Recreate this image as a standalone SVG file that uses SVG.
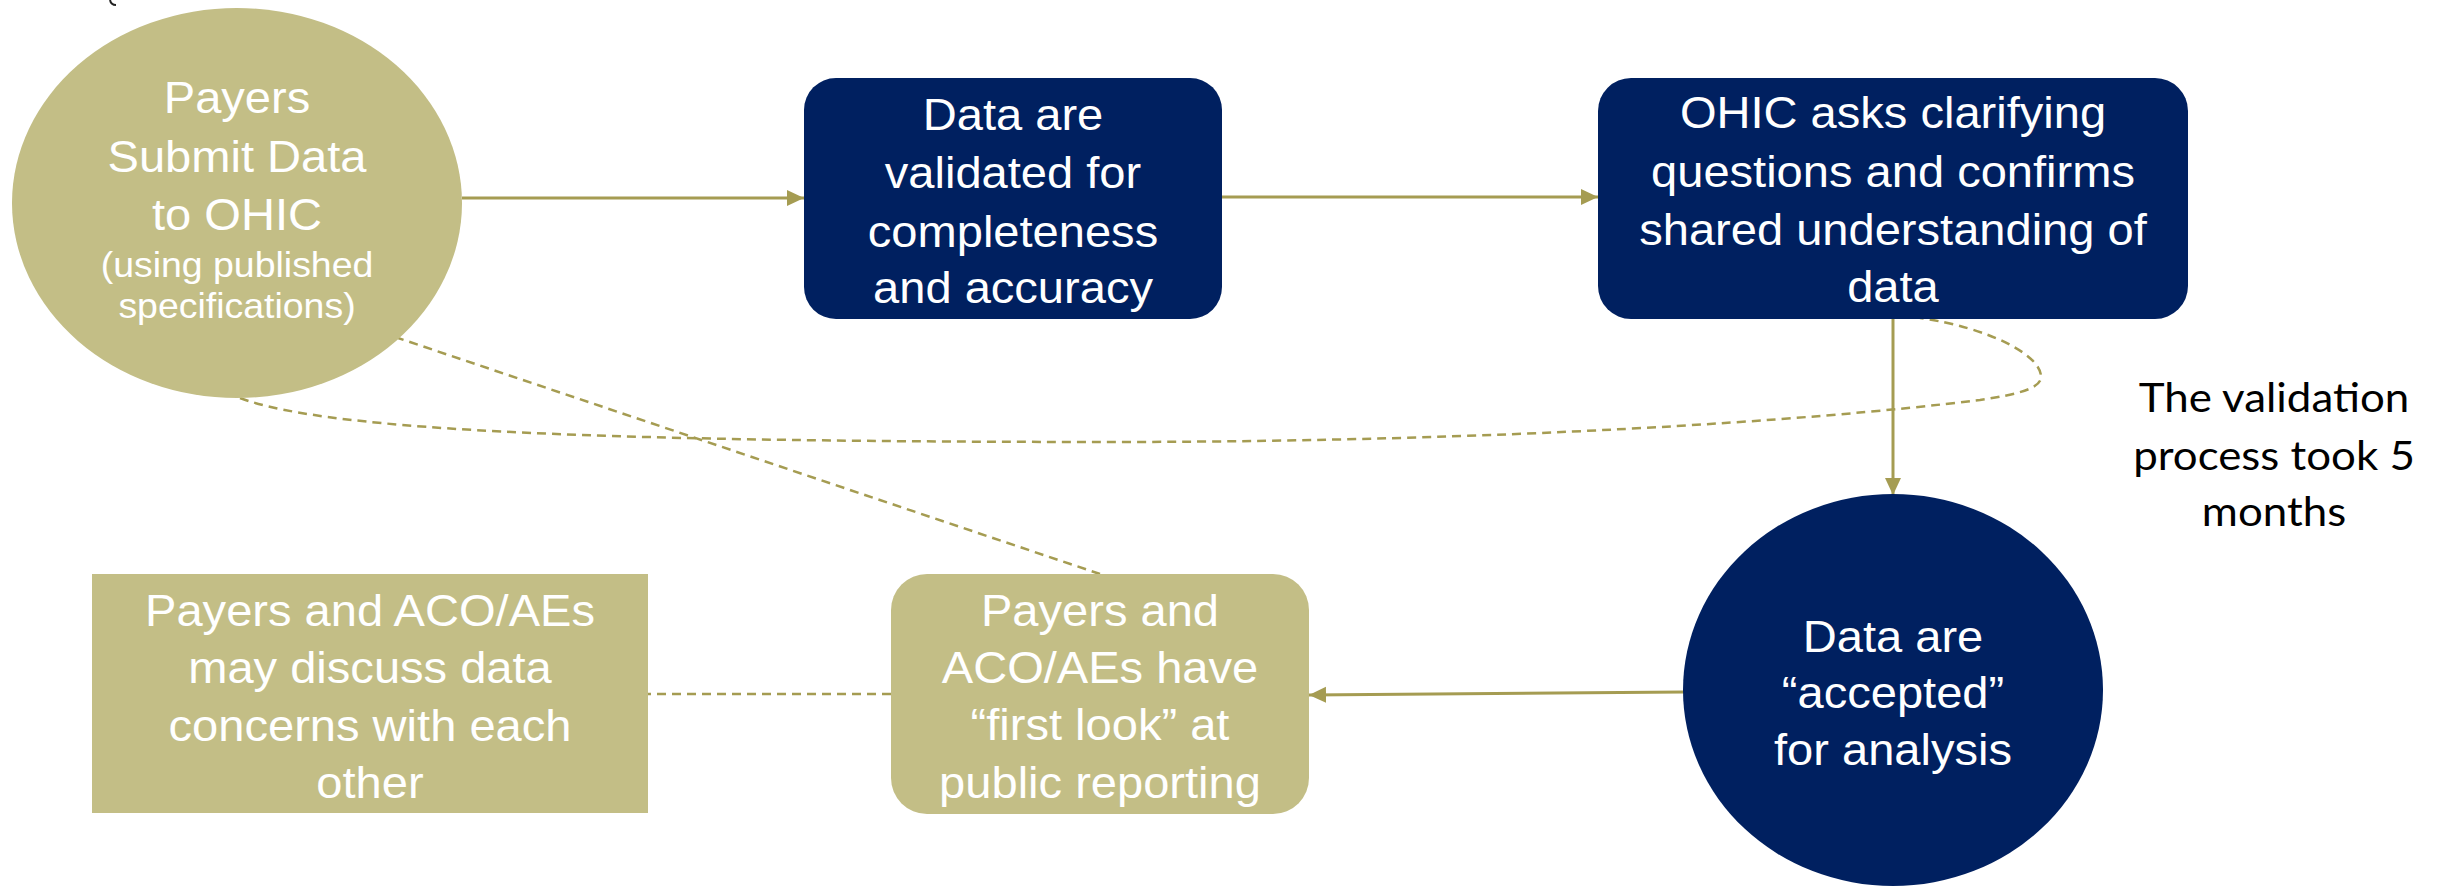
<svg xmlns="http://www.w3.org/2000/svg" width="2438" height="886" viewBox="0 0 2438 886">
  <style>
    .tan { fill: #C3BE86; }
    .navy { fill: #002060; }
    .label { font-family: "Liberation Sans", Arial, sans-serif; font-size: 44px; fill: #FFFFFF; text-anchor: middle; }
    .small { font-size: 35px; }
    .note { font-family: Lato, "Noto Sans", sans-serif; font-size: 41px; fill: #000000; text-anchor: middle; }
    .flow { fill: none; stroke: #A59C52; stroke-width: 3; }
    .dash { fill: none; stroke: #A59C52; stroke-width: 2.5; stroke-dasharray: 9 6; }
  </style>
  <defs>
    <marker id="head" markerUnits="userSpaceOnUse" markerWidth="18" markerHeight="18" refX="17" refY="8" orient="auto">
      <path d="M0,0 L17,8 L0,16 Z" fill="#A59C52"/>
    </marker>
  </defs>

  <rect width="2438" height="886" fill="#FFFFFF"/>

  <!-- clipped glyph tail at the top edge -->
  <path d="M110,0 Q111,5 116,5" fill="none" stroke="#222222" stroke-width="2"/>

  <!-- connectors -->
  <g id="connectors">
    <line class="flow" x1="462" y1="198" x2="804" y2="198" marker-end="url(#head)"/>
    <line class="flow" x1="1222" y1="197" x2="1598" y2="197" marker-end="url(#head)"/>
    <line class="flow" x1="1893" y1="319" x2="1893" y2="495" marker-end="url(#head)"/>
    <line class="flow" x1="1684" y1="692" x2="1309" y2="695" marker-end="url(#head)"/>
    <line class="dash" x1="891" y1="694" x2="648" y2="694"/>
    <line class="dash" x1="395" y1="337" x2="1100" y2="574"/>
    <path class="dash" d="M240,398 C330,432 620,442 1130,442 C1500,441 1800,422 1980,400 C2020,394 2042,388 2041,376 C2040,355 1990,328 1920,318"/>
  </g>

  <!-- Payers submit data -->
  <g id="submit">
    <ellipse class="tan" cx="237" cy="203" rx="225" ry="195"/>
    <g transform="translate(237 0) scale(1.07 1)">
      <text class="label" x="0" y="113">Payers</text>
      <text class="label" x="0" y="172">Submit Data</text>
      <text class="label" x="0" y="230">to OHIC</text>
      <text class="label small" x="0" y="277">(using published</text>
      <text class="label small" x="0" y="318">specifications)</text>
    </g>
  </g>

  <!-- Validation -->
  <g id="validate">
    <rect class="navy" x="804" y="78" width="418" height="241" rx="32"/>
    <g transform="translate(1013 0) scale(1.07 1)">
      <text class="label" x="0" y="130">Data are</text>
      <text class="label" x="0" y="188">validated for</text>
      <text class="label" x="0" y="247">completeness</text>
      <text class="label" x="0" y="303">and accuracy</text>
    </g>
  </g>

  <!-- Clarifying questions -->
  <g id="clarify">
    <rect class="navy" x="1598" y="78" width="590" height="241" rx="33"/>
    <g transform="translate(1893 0) scale(1.07 1)">
      <text class="label" x="0" y="128">OHIC asks clarifying</text>
      <text class="label" x="0" y="187">questions and confirms</text>
      <text class="label" x="0" y="245">shared understanding of</text>
      <text class="label" x="0" y="302">data</text>
    </g>
  </g>

  <!-- Accepted -->
  <g id="accepted">
    <ellipse class="navy" cx="1893" cy="690" rx="210" ry="196"/>
    <g transform="translate(1893 0) scale(1.07 1)">
      <text class="label" x="0" y="652">Data are</text>
      <text class="label" x="0" y="708">“accepted”</text>
      <text class="label" x="0" y="765">for analysis</text>
    </g>
  </g>

  <!-- First look -->
  <g id="firstlook">
    <rect class="tan" x="891" y="574" width="418" height="240" rx="36"/>
    <g transform="translate(1100 0) scale(1.07 1)">
      <text class="label" x="0" y="626">Payers and</text>
      <text class="label" x="0" y="683">ACO/AEs have</text>
      <text class="label" x="0" y="740">“first look” at</text>
      <text class="label" x="0" y="798">public reporting</text>
    </g>
  </g>

  <!-- Discuss concerns -->
  <g id="discuss">
    <rect class="tan" x="92" y="574" width="556" height="239"/>
    <g transform="translate(370 0) scale(1.07 1)">
      <text class="label" x="0" y="626">Payers and ACO/AEs</text>
      <text class="label" x="0" y="683">may discuss data</text>
      <text class="label" x="0" y="741">concerns with each</text>
      <text class="label" x="0" y="798">other</text>
    </g>
  </g>

  <!-- Duration note -->
  <g id="duration">
    <g transform="translate(2274 0) scale(1.07 1)">
      <text class="note" x="0" y="412">The validation</text>
      <text class="note" x="0" y="470">process took 5</text>
      <text class="note" x="0" y="526">months</text>
    </g>
  </g>
</svg>
